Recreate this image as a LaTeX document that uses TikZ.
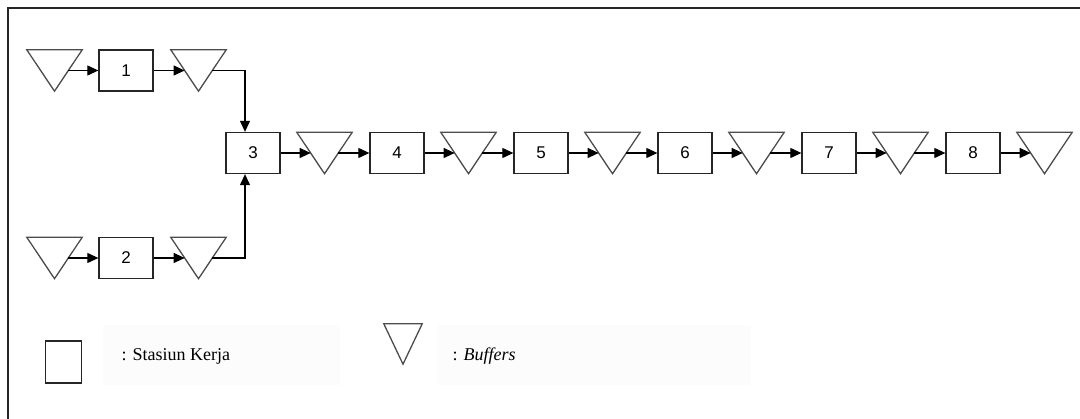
\documentclass[tikz,border=0pt]{standalone}
\usepackage{fontspec}
\setmainfont{Liberation Serif}
\newfontfamily\numfont{Liberation Sans}
\usetikzlibrary{arrows.meta,calc}

\tikzset{
  station/.style={draw=black!85, line width=1.3pt, minimum width=54pt, minimum height=41pt,
    inner sep=0pt, font=\numfont\fontsize{17}{17}\selectfont},
  buf/.style={minimum width=55pt, minimum height=41pt, inner sep=0pt},
  bufline/.style={draw=black!70, line width=1.3pt, line join=miter},
  flow/.style={line width=1.1pt, -{Triangle[length=11pt,width=10pt]}},
  legendtext/.style={anchor=west, font=\fontsize{18}{18}\selectfont},
  legendbg/.style={fill=black!1, draw=none}
}

\begin{document}
\begin{tikzpicture}[x=1pt, y=-1pt]
\useasboundingbox (0,0) rectangle (1080,419);
% outer frame (right and bottom edges fall outside the page)
\draw[line width=1.8pt, black!85] (8,8) rectangle (1095,440);

% feeder line 1
\node[buf] (t1) at (54.5,70.5) {};
\node[station] (b1) at (126,70.5) {1};
\node[buf] (t2) at (198.5,70.5) {};
% feeder line 2
\node[buf] (t3) at (54.5,258) {};
\node[station] (b2) at (126,258) {2};
\node[buf] (t4) at (198.5,258) {};

% main line: stations 3..8 with buffers after each
\foreach \k/\n in {0/3,1/4,2/5,3/6,4/7,5/8}{
  \node[station] (s\n) at (253+144*\k,153) {\n};
  \node[buf] (q\n) at (324.5+144*\k,153) {};
}

% inverted-triangle buffers
\foreach \t in {t1,t2,t3,t4,q3,q4,q5,q6,q7,q8}{
  \draw[bufline] (\t.north west) -- (\t.south) -- (\t.north east) -- cycle;
}

% helper points where lines meet the slanted sides of a buffer
\foreach \t in {t1,t2,t3,t4,q3,q4,q5,q6,q7,q8}{
  \coordinate (\t-in) at ($(\t.west)!0.25!(\t.east)$);
  \coordinate (\t-out) at ($(\t.west)!0.75!(\t.east)$);
}

% feeder flows
\draw[flow] (t1-out) -- (b1.west);
\draw[flow] (b1.east) -- (t2-in);
\draw[flow] (t3-out) -- (b2.west);
\draw[flow] (b2.east) -- (t4-in);
\draw[flow] (t2-out) -| ([xshift=-8pt]s3.north);
\draw[flow] (t4-out) -| ([xshift=-8pt]s3.south);

% main flows
\foreach \n in {3,...,8}{
  \draw[flow] (s\n.east) -- (q\n-in);
}
\foreach \a/\b in {3/4,4/5,5/6,6/7,7/8}{
  \draw[flow] (q\a-out) -- (s\b.west);
}

% legend
\fill[legendbg] (103,325) rectangle (340,385);
\fill[legendbg] (438,325) rectangle (751,385);
\node[draw=black!85, line width=1.3pt, minimum width=36pt, minimum height=42pt, inner sep=0pt]
  (lbox) at (63.5,362) {};
\node[legendtext] (ltxt1) at (118,356) {: Stasiun Kerja};
\node[buf, minimum width=38pt, minimum height=40pt] (ltri) at (403,344) {};
\draw[bufline] (ltri.north west) -- (ltri.south) -- (ltri.north east) -- cycle;
\node[legendtext] (ltxt2) at (449,356) {: \textit{Buffers}};
\end{tikzpicture}
\end{document}
